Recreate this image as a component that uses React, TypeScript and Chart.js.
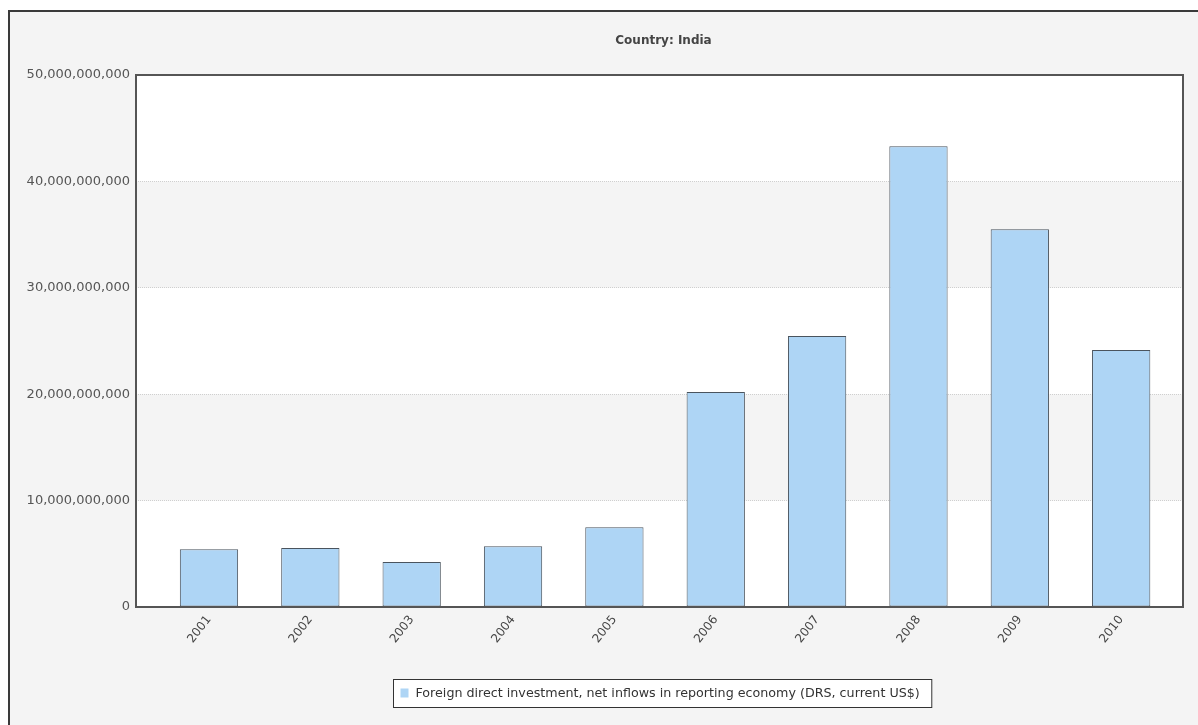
import React, { useEffect, useRef } from "react";
import { Chart, registerables } from "chart.js";

Chart.register(...registerables);

const chartTitle = "Country: India";
const seriesName = "Foreign direct investment, net inflows in reporting economy (DRS, current US$)";
const years = [2001, 2002, 2003, 2004, 2005, 2006, 2007, 2008, 2009, 2010];
const fdiValues = [5.42e9, 5.55e9, 4.23e9, 5.71e9, 7.49e9, 20.2e9, 25.47e9, 43.3e9, 35.5e9, 24.15e9];
const yTicks = [0, 10e9, 20e9, 30e9, 40e9, 50e9];

const FONT = "'DejaVu Sans', Verdana, sans-serif";
const BAR_FILL = "#aed5f5";
const BAR_EDGE = "#4a545e";
const PANEL_BG = "#f4f4f4";

const decorPlugin = {
  id: "decor",
  beforeDraw(chart: any) {
    const { ctx, chartArea: a, scales } = chart;
    const y = scales.y;
    ctx.save();
    ctx.fillStyle = "#ffffff";
    ctx.fillRect(a.left, a.top, a.right - a.left, a.bottom - a.top);
    ctx.fillStyle = PANEL_BG;
    for (let i = 0; i < yTicks.length - 1; i++) {
      if (i % 2 === 1) {
        const y0 = y.getPixelForValue(yTicks[i]);
        const y1 = y.getPixelForValue(yTicks[i + 1]);
        ctx.fillRect(a.left, y1, a.right - a.left, y0 - y1);
      }
    }
    // title
    ctx.fillStyle = "#444";
    ctx.font = "bold 12px " + FONT;
    ctx.textAlign = "center";
    ctx.textBaseline = "middle";
    ctx.fillText(chartTitle, (a.left + a.right) / 2 + 4, 41);
    ctx.restore();
  },
  afterDraw(chart: any) {
    const { ctx, chartArea: a } = chart;
    ctx.save();
    // plot frame
    ctx.strokeStyle = "#555";
    ctx.lineWidth = 2;
    ctx.strokeRect(a.left, a.top, a.right - a.left, a.bottom - a.top);
    // legend
    ctx.font = "12.7px " + FONT;
    const tw = ctx.measureText(seriesName).width;
    const boxW = tw + 34;
    const boxH = 28;
    const cx = (a.left + a.right) / 2 + 3;
    const bx = Math.round(cx - boxW / 2) + 0.5;
    const by = 679.5;
    ctx.fillStyle = "#ffffff";
    ctx.fillRect(bx, by, boxW, boxH);
    ctx.strokeStyle = "#333";
    ctx.lineWidth = 1;
    ctx.strokeRect(bx, by, boxW, boxH);
    ctx.fillStyle = BAR_FILL;
    ctx.fillRect(bx + 7, by + 9, 8, 9);
    ctx.fillStyle = "#333";
    ctx.textAlign = "left";
    ctx.textBaseline = "middle";
    ctx.fillText(seriesName, bx + 22, by + boxH / 2);
    ctx.restore();
  },
};

export default function App() {
  const canvasRef = useRef<HTMLCanvasElement | null>(null);

  useEffect(() => {
    const canvas = canvasRef.current;
    if (!canvas) return;
    const chart = new Chart(canvas, {
      type: "bar",
      data: {
        datasets: [
          {
            label: seriesName,
            data: years.map((yr, i) => ({ x: yr, y: fdiValues[i] })),
            backgroundColor: BAR_FILL,
            borderColor: BAR_EDGE,
            borderWidth: 1,
            borderSkipped: false,
            barPercentage: 0.575,
            categoryPercentage: 1,
          },
        ],
      },
      options: {
        animation: false,
        responsive: false,
        maintainAspectRatio: false,
        layout: { padding: { left: 0, top: 75, right: 15, bottom: 0 } },
        plugins: {
          legend: { display: false },
          title: { display: false },
          tooltip: { enabled: false },
        },
        scales: {
          x: {
            type: "linear",
            offset: false,
            min: 2000.28,
            max: 2010.61,
            afterBuildTicks(scale: any) {
              scale.ticks = years.map((v) => ({ value: v }));
            },
            afterFit(scale: any) {
              scale.height = 118;
            },
            ticks: {
              autoSkip: false,
              minRotation: 52,
              maxRotation: 52,
              padding: 6,
              color: "#444",
              font: { family: FONT, size: 12 },
              callback: (v: any) => String(v),
            },
            grid: { display: false, drawTicks: false, offset: false },
            border: { display: false },
          },
          y: {
            min: 0,
            max: 50e9,
            afterBuildTicks(scale: any) {
              scale.ticks = yTicks.map((v) => ({ value: v }));
            },
            afterFit(scale: any) {
              scale.width = 136;
            },
            ticks: {
              padding: 6,
              color: "#555",
              font: { family: FONT, size: 13 },
              callback: (v: any) => Number(v).toLocaleString("en-US"),
            },
            grid: {
              drawTicks: false,
              color: (c: any) =>
                c.tick && (c.tick.value === 0 || c.tick.value === 50e9) ? "rgba(0,0,0,0)" : "#cfcfcf",
              lineWidth: 1,
            },
            border: { display: false, dash: [1, 1] },
          },
        },
      },
      plugins: [decorPlugin],
    } as any);
    return () => chart.destroy();
  }, []);

  return (
    <div>
      <div
        style={{
          position: "fixed",
          left: 8,
          top: 10,
          width: 1220,
          height: 740,
          background: PANEL_BG,
          borderLeft: "2px solid #3a3a3a",
          borderTop: "2px solid #3a3a3a",
        }}
      />
      <canvas
        ref={canvasRef}
        width={1198}
        height={725}
        style={{ position: "fixed", left: 0, top: 0, width: 1198, height: 725 }}
      />
    </div>
  );
}
